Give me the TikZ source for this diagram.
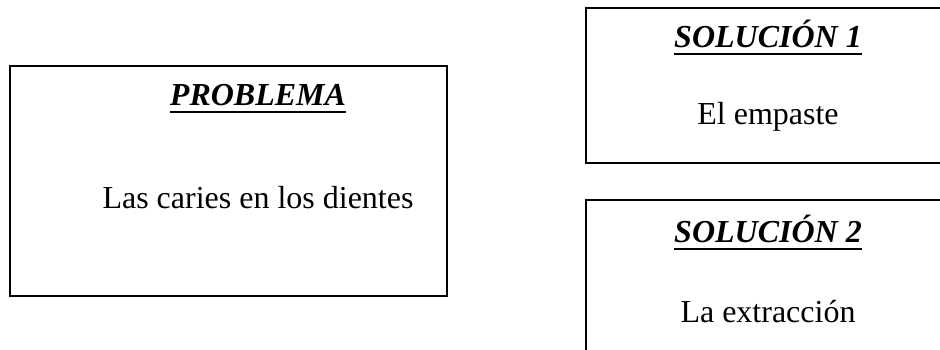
\documentclass[tikz,border=0pt]{standalone}
\usepackage{fontspec}
\setmainfont{Liberation Serif}
\begin{document}
\begin{tikzpicture}[x=1pt,y=-1pt,
  box/.style={draw=black,line width=2pt,anchor=north west,inner sep=0pt},
  head/.style={anchor=base,inner sep=0pt,font=\fontsize{32}{38}\selectfont\bfseries\itshape},
  body/.style={anchor=base,inner sep=0pt,font=\fontsize{32}{38}\selectfont},
  ul/.style={line width=2.7pt}]
\useasboundingbox (0,0) rectangle (940,349);
\node[box,minimum width=437pt,minimum height=230pt] (prob) at (9,65) {};
\node[box,minimum width=366pt,minimum height=155pt] (s1) at (585,7) {};
\node[box,minimum width=366pt,minimum height=220pt] (s2) at (585,199) {};
\node[head] (ph) at (258,105) {PROBLEMA};
\draw[ul] ([yshift=-7pt]ph.base west) -- ([yshift=-7pt]ph.base east);
\node[body] (pt) at (258,208) {Las caries en los dientes};
\node[head] (h1) at (768,47) {SOLUCIÓN 1};
\draw[ul] ([yshift=-7pt]h1.base west) -- ([yshift=-7pt]h1.base east);
\node[body] (t1) at (768,124) {El empaste};
\node[head] (h2) at (768,242) {SOLUCIÓN 2};
\draw[ul] ([yshift=-7pt]h2.base west) -- ([yshift=-7pt]h2.base east);
\node[body] (t2) at (768,322) {La extracción};
\end{tikzpicture}
\end{document}
